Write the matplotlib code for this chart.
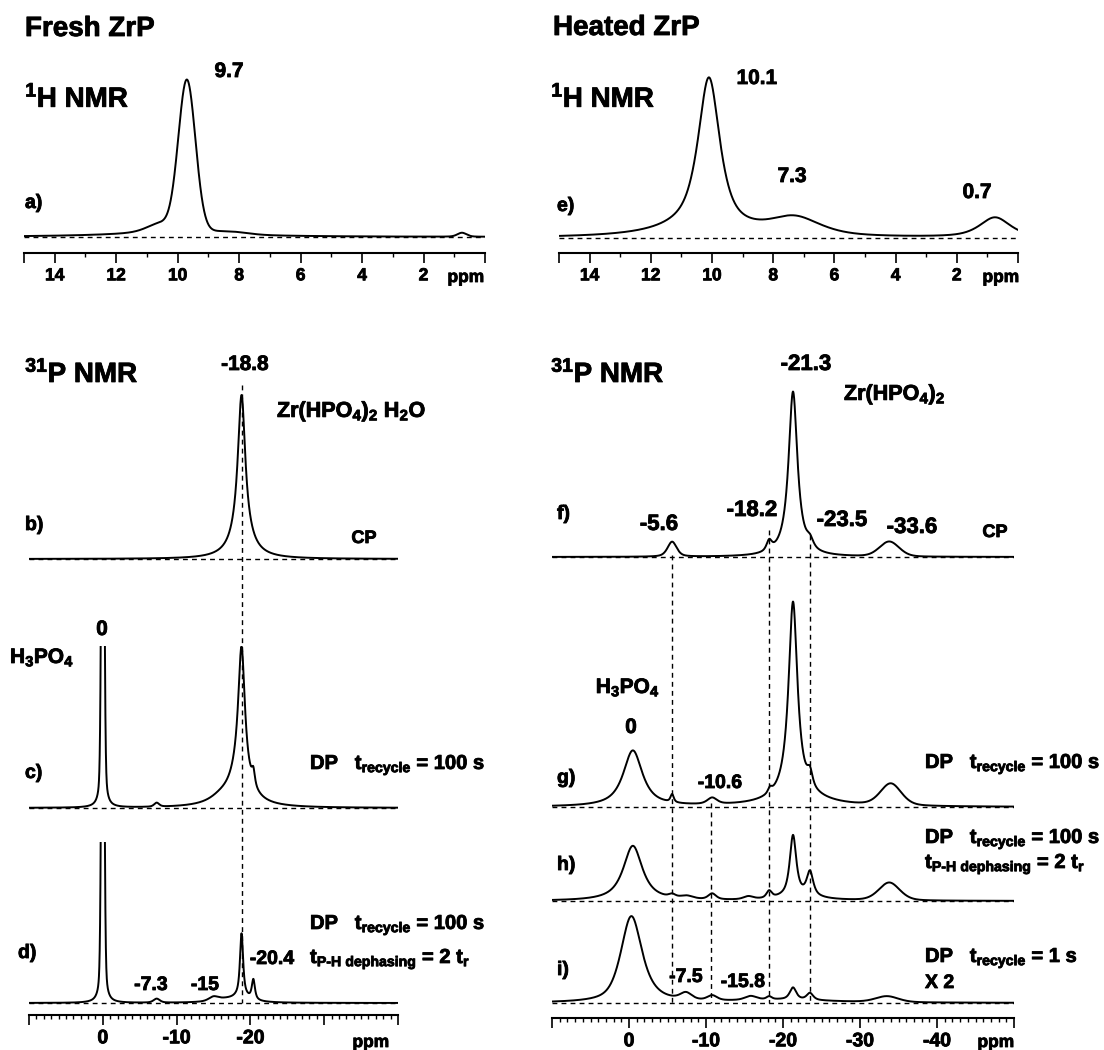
import numpy as np
import matplotlib
matplotlib.use("Agg")
import matplotlib.pyplot as plt
import matplotlib.patheffects as pe

plt.rcParams["font.family"] = ["Liberation Sans", "DejaVu Sans"]
plt.rcParams["font.weight"] = "bold"
plt.rcParams["axes.unicode_minus"] = False
plt.rcParams["mathtext.fontset"] = "custom"
plt.rcParams["mathtext.rm"] = "Liberation Sans:bold"
plt.rcParams["mathtext.it"] = "Liberation Sans:bold"
plt.rcParams["mathtext.bf"] = "Liberation Sans:bold"
plt.rcParams["mathtext.sf"] = "Liberation Sans:bold"
plt.rcParams["mathtext.default"] = "rm"

# ---------------- data: peaks as (ppm, height, FWHM ppm, lorentz fraction) -------------
PEAKS_A = [(9.7, 152, 0.66, 0.05), (10.6, 9, 1.0, 0.5), (10.2, 4, 5.0, 1.0),
           (8.3, 2.5, 1.3, 0.0), (0.75, 4, 0.35, 0.3)]
PEAKS_E = [(10.1, 150, 0.85, 0.8), (10.5, 10, 3.0, 1.0), (7.3, 18, 2.0, 0.6),
           (0.75, 20, 1.2, 0.7)]
PEAKS_B = [(-18.8, 140, 1.2, 1.0), (-18.8, 24, 3.0, 1.0)]
PEAKS_C = [(0.0, 600, 0.4, 0.3), (-18.8, 133, 1.1, 1.0), (-18.5, 27, 3.5, 1.0),
           (-20.4, 14, 0.5, 0.8), (-16.0, 6, 4.0, 1.0), (-7.3, 4, 0.8, 0.5)]
PEAKS_D = [(0.0, 600, 0.4, 0.3), (-18.8, 62, 0.5, 0.8), (-18.8, 6, 2.5, 1.0),
           (-20.4, 20, 0.5, 0.8), (-7.3, 4, 1.0, 0.5), (-15.0, 4, 1.5, 0.5),
           (-16.5, 3, 4.0, 1.0)]
PEAKS_F = [(-21.3, 165, 1.4, 1.0), (-5.6, 15, 1.4, 0.5), (-18.2, 10, 0.8, 0.7),
           (-23.5, 8, 1.0, 0.7), (-33.8, 15, 3.0, 0.2)]
PEAKS_G = [(-0.5, 56, 3.0, 0.9), (-5.6, 8, 0.5, 0.7), (-10.8, 6.5, 1.5, 0.6),
           (-18.3, 5, 0.6, 0.7), (-21.3, 195, 1.4, 1.0), (-22.0, 10, 8.0, 1.0),
           (-23.5, 14, 0.8, 0.7), (-34.0, 22, 3.2, 0.3)]
PEAKS_H = [(-0.5, 55, 3.0, 0.9), (-5.6, 3, 1.0, 0.5), (-7.5, 3, 2.0, 0.5),
           (-10.8, 6, 1.2, 0.6), (-15.5, 3, 1.5, 0.5), (-18.2, 7, 0.8, 0.6),
           (-21.3, 60, 1.0, 0.8), (-23.5, 24, 1.0, 0.8), (-22.0, 5, 6.0, 1.0),
           (-33.8, 18, 3.2, 0.3)]
PEAKS_I = [(-0.3, 85, 3.2, 0.6), (-3.0, 4, 4.0, 1.0), (-7.4, 7, 1.8, 0.5),
           (-10.8, 5, 1.5, 0.5), (-15.8, 4, 1.8, 0.5), (-18.2, 3, 0.8, 0.5),
           (-21.3, 12, 1.0, 0.7), (-23.5, 7, 1.0, 0.7), (-33.5, 6, 3.5, 0.3),
           (-20.0, 3, 15.0, 1.0)]

H1_MAJOR = [14, 12, 10, 8, 6, 4, 2]
H1_LABELS = ["14", "12", "10", "8", "6", "4", "2"]
P_FRESH_MAJOR = [0, -10, -20]
P_FRESH_LABELS = ["0", "-10", "-20"]
P_HEAT_MAJOR = [0, -10, -20, -30, -40]
P_HEAT_LABELS = ["0", "-10", "-20", "-30", "-40"]

FRESH_GUIDES = [-18.8]
HEAT_GUIDES = [-5.6, -10.6, -18.2, -23.5]

# ---------------- figure -------------
W, H = 1104, 1050
fig = plt.figure(figsize=(W / 100, H / 100), dpi=100)

LW = 1.4
DASH = (0, (3.5, 3))
HEAVY = [pe.withStroke(linewidth=0.6, foreground="black")]


def pv(x, peaks):
    y = np.zeros_like(x)
    for c, h, w, eta in peaks:
        u = (2 * (x - c) / w) ** 2
        y += h * (eta / (1 + u) + (1 - eta) * np.exp(-np.log(2) * u))
    return y


def frame_axes(x0, x1, ytop, yax, xlim, labelsize):
    ax = fig.add_axes([x0 / W, 1 - yax / H, (x1 - x0) / W, (yax - ytop) / H])
    ax.set_xlim(xlim)
    ax.set_ylim(yax, ytop)
    ax.patch.set_alpha(0)
    for s in ["top", "left", "right"]:
        ax.spines[s].set_visible(False)
    ax.spines["bottom"].set_linewidth(1.5)
    ax.set_yticks([])
    ax.tick_params(axis="x", which="major", direction="out", length=7, width=1.2,
                   labelsize=labelsize, pad=4)
    ax.tick_params(axis="x", which="minor", direction="out", length=3, width=1.0)
    return ax


def style_ticklabels(ax):
    for lab in ax.get_xticklabels():
        lab.set_fontweight("bold")
        lab.set_path_effects(HEAVY)


def spec_axes(x0, x1, base, top, xlim, peaks):
    ax = fig.add_axes([x0 / W, 1 - (base + 6) / H, (x1 - x0) / W, (top + 6) / H])
    ax.set_xlim(xlim)
    ax.set_ylim(-6, top)
    ax.axis("off")
    x = np.linspace(xlim[0], xlim[1], 4000)
    ax.plot(x, pv(x, peaks), color="black", lw=LW, solid_joinstyle="round")
    ax.plot(xlim, [0, 0], color="black", lw=1.0, ls=DASH)
    return ax


def T(x, y, s, size=12, ha="center", **kw):
    fig.text(x / W, 1 - y / H, s, fontsize=size, ha=ha, va="baseline",
             fontweight="bold", path_effects=HEAVY, **kw)


# ---------- top-left: fresh 1H ----------
axf = frame_axes(24, 485, 60, 253, (15, 0), 12.5)
axf.set_xticks([15] + H1_MAJOR + [0], labels=[""] + H1_LABELS + [""])
axf.set_xticks(np.arange(0, 16, 1), minor=True)
style_ticklabels(axf)
spec_axes(24, 485, 237, 175, (15, 0), PEAKS_A)

# ---------- top-right: heated 1H ----------
axh = frame_axes(559, 1018, 60, 253, (15, 0), 12.5)
axh.set_xticks([15] + H1_MAJOR + [0], labels=[""] + H1_LABELS + [""])
axh.set_xticks(np.arange(0, 16, 1), minor=True)
style_ticklabels(axh)
spec_axes(559, 1018, 238, 175, (15, 0), PEAKS_E)

# ---------- bottom-left: fresh 31P ----------
axp = frame_axes(29, 398, 330, 1015, (10, -40), 14)
axp.set_xticks([10] + P_FRESH_MAJOR + [-30, -40],
               labels=[""] + P_FRESH_LABELS + ["", ""])
axp.set_xticks(np.arange(-40, 11, 1), minor=True)
style_ticklabels(axp)
for g in FRESH_GUIDES:
    axp.plot([g, g], [385, 1003], color="black", lw=1.0, ls=DASH)
spec_axes(29, 398, 559, 175, (10, -40), PEAKS_B)
spec_axes(29, 398, 808, 162, (10, -40), PEAKS_C)
spec_axes(29, 398, 1003, 161, (10, -40), PEAKS_D)

# ---------- bottom-right: heated 31P ----------
axq = frame_axes(552, 1014, 330, 1018, (10, -50), 14)
axq.set_xticks([10] + P_HEAT_MAJOR + [-50], labels=[""] + P_HEAT_LABELS + [""])
axq.set_xticks(np.arange(-50, 11, 1), minor=True)
style_ticklabels(axq)
for g, y0 in zip(HEAT_GUIDES, [555, 803, 530, 535]):
    axq.plot([g, g], [y0, 1003], color="black", lw=1.0, ls=DASH)
spec_axes(552, 1014, 557, 175, (10, -50), PEAKS_F)
spec_axes(552, 1014, 807, 215, (10, -50), PEAKS_G)
spec_axes(552, 1014, 901, 80, (10, -50), PEAKS_H)
spec_axes(552, 1014, 1003, 100, (10, -50), PEAKS_I)

# ---------- texts ----------
T(25, 36, "Fresh ZrP", 20, ha="left")
T(553, 35, "Heated ZrP", 20, ha="left")
T(25, 107, "$^{1}$H NMR", 20, ha="left")
T(551, 107, "$^{1}$H NMR", 20, ha="left")
T(229, 77, "9.7", 15)
T(25, 208, "a)", 14, ha="left")
T(466, 282, "ppm", 12.5)
T(757, 84, "10.1", 15)
T(792, 182, "7.3", 15)
T(977, 198, "0.7", 15)
T(557, 211, "e)", 14, ha="left")
T(1001, 282, "ppm", 12.5)

T(25, 382, "$^{31}$P NMR", 20, ha="left")
T(245, 370, "-18.8", 15)
T(277, 417, "Zr(HPO$_4$)$_2$ H$_2$O", 15.5, ha="left")
T(25, 530, "b)", 14, ha="left")
T(364, 543, "CP", 13)
T(102, 635, "0", 15)
T(10, 663, "H$_3$PO$_4$", 15, ha="left")
T(25, 778, "c)", 14, ha="left")
T(310, 769, "DP   t$_{recycle}$ = 100 s", 14.5, ha="left")
T(18, 958, "d)", 14, ha="left")
T(310, 929, "DP   t$_{recycle}$ = 100 s", 14.5, ha="left")
T(310, 963, "t$_{P\u2010H\\ dephasing}$ = 2 t$_r$", 14.5, ha="left")
T(272, 964, "-20.4", 14)
T(151, 990, "-7.3", 14)
T(205, 990, "-15", 14)
T(371, 1047, "ppm", 12.5)

T(551, 382, "$^{31}$P NMR", 20, ha="left")
T(806, 370, "-21.3", 16)
T(844, 400, "Zr(HPO$_4$)$_2$", 15.5, ha="left")
T(557, 519, "f)", 14, ha="left")
T(659, 530, "-5.6", 16)
T(752, 516, "-18.2", 16)
T(842, 526, "-23.5", 16)
T(912, 533, "-33.6", 16)
T(995, 537, "CP", 13)
T(628, 693, "H$_3$PO$_4$", 15)
T(631, 733, "0", 15)
T(557, 783, "g)", 14, ha="left")
T(720, 788, "-10.6", 14)
T(925, 768, "DP   t$_{recycle}$ = 100 s", 14.5, ha="left")
T(557, 870, "h)", 14, ha="left")
T(925, 843, "DP   t$_{recycle}$ = 100 s", 14.5, ha="left")
T(925, 868, "t$_{P\u2010H\\ dephasing}$ = 2 t$_r$", 14.5, ha="left")
T(557, 975, "i)", 14, ha="left")
T(925, 962, "DP   t$_{recycle}$ = 1 s", 14.5, ha="left")
T(925, 988, "X 2", 14, ha="left")
T(686, 982, "-7.5", 14)
T(743, 987, "-15.8", 14)
T(996, 1047, "ppm", 12.5)

fig.savefig("out.png", dpi=100)
